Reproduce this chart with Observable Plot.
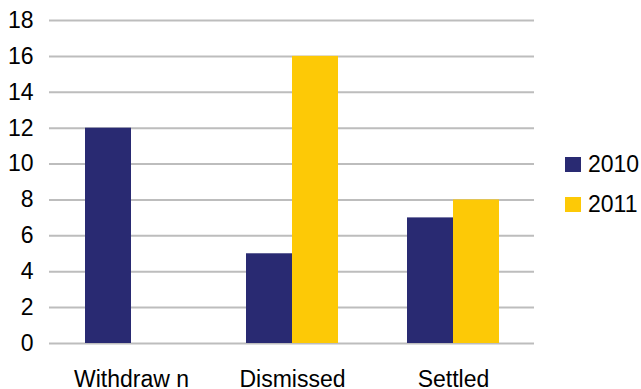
<!DOCTYPE html>
<html>
<head>
<meta charset="utf-8">
<script src="https://cdn.jsdelivr.net/npm/d3@7"></script>
<script src="https://cdn.jsdelivr.net/npm/@observablehq/plot@0.6"></script>
<style>
  html, body { margin: 0; padding: 0; background: #fff; }
  #wrap { position: relative; width: 641px; height: 389px; font-family: "Liberation Sans", Arial, sans-serif; }
  .legend { position: absolute; left: 565px; height: 26px; font-size: 23px; line-height: 26px; color: #000; display: flex; align-items: center; }
  .legend span.sw { display: inline-block; width: 16px; height: 15px; margin-right: 7px; }
</style>
</head>
<body>
<div id="wrap"></div>
<script>
// Case outcomes by year
const categories = ["Withdraw n", "Dismissed", "Settled"];
const values2010 = [12, 5, 7];
const values2011 = [0, 16, 8];
const years = ["2010", "2011"];
const colors = ["#292a72", "#fdc906"];
const yTicks = [0, 2, 4, 6, 8, 10, 12, 14, 16, 18];

const rows = categories.flatMap((c, i) => [
  {category: c, year: years[0], value: values2010[i]},
  {category: c, year: years[1], value: values2011[i]}
]);

const halfBar = 46;

const chart = Plot.plot({
  width: 641,
  height: 389,
  marginLeft: 49,
  marginRight: 107,
  marginTop: 20,
  marginBottom: 46,
  style: {fontFamily: "Liberation Sans, Arial, sans-serif", color: "#000", background: "#fff"},
  x: {domain: categories, paddingInner: 0.43, paddingOuter: 0.215},
  y: {domain: [0, 18]},
  color: {domain: years, range: colors},
  marks: [
    Plot.ruleY(yTicks, {stroke: "#bdbdbd", strokeWidth: 2}),
    Plot.axisY(yTicks, {tickSize: 0, tickPadding: 16, fontSize: 23, label: null, tickFormat: d => String(d)}),
    Plot.axisX({tickSize: 0, tickPadding: 27, fontSize: 23, label: null}),
    Plot.barY(rows.filter(d => d.year === years[0]), {x: "category", y: "value", fill: "year", insetRight: halfBar}),
    Plot.barY(rows.filter(d => d.year === years[1]), {x: "category", y: "value", fill: "year", insetLeft: halfBar})
  ]
});

const wrap = document.getElementById("wrap");
wrap.appendChild(chart);

// Legend at the right of the plot area
const legendTops = [151, 191];
years.forEach((yr, i) => {
  const item = document.createElement("div");
  item.className = "legend";
  item.style.top = legendTops[i] + "px";
  item.innerHTML = `<span class="sw" style="background:${colors[i]}"></span><span>${yr}</span>`;
  wrap.appendChild(item);
});
</script>
</body>
</html>
